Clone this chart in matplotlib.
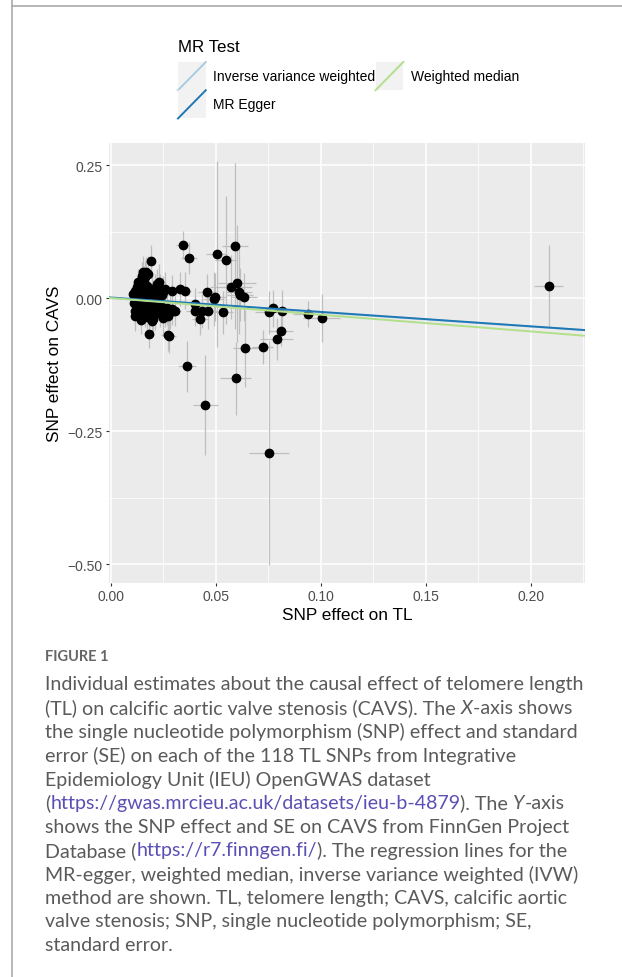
import matplotlib
matplotlib.use("Agg")
import matplotlib.pyplot as plt
from matplotlib.lines import Line2D
from matplotlib.patches import Rectangle
from matplotlib.legend_handler import HandlerBase

plt.rcParams['font.family'] = ['Liberation Sans', 'DejaVu Sans']

# SNP effects on telomere length (x) and on CAVS (y), with standard errors
tl_beta = [0.0155, 0.0168, 0.0176, 0.0147, 0.0163, 0.0132, 0.0232, 0.0219, 0.0190,
           0.0116, 0.0132, 0.0147, 0.0163, 0.0179, 0.0195, 0.0211, 0.0235, 0.0251,
           0.0116, 0.0140, 0.0155, 0.0171, 0.0187, 0.0203, 0.0227, 0.0243,
           0.0124, 0.0147, 0.0163, 0.0187, 0.0219, 0.0108, 0.0124, 0.0259,
           0.0124, 0.0147, 0.0171, 0.0195, 0.0219, 0.0243, 0.0267, 0.0290,
           0.0116, 0.0140, 0.0163, 0.0187, 0.0211, 0.0235, 0.0259, 0.0282, 0.0306,
           0.0116, 0.0143, 0.0171, 0.0203, 0.0251, 0.0274, 0.0195,
           0.0184, 0.0271, 0.0279,
           0.0128, 0.0150, 0.0135, 0.0158, 0.0130, 0.0180, 0.0200, 0.0120, 0.0175,
           0.0140, 0.0230, 0.0210, 0.0110, 0.0160,
           0.0290, 0.0330, 0.0354, 0.0343, 0.0373, 0.0457, 0.0400, 0.0400, 0.0433,
           0.0465, 0.0425, 0.0497, 0.0492, 0.0533, 0.0505, 0.0548, 0.0592, 0.0600,
           0.0571, 0.0611, 0.0616, 0.0636, 0.0362, 0.0450, 0.0595, 0.0641, 0.0724,
           0.0755, 0.0790, 0.0810, 0.0774, 0.0755, 0.0814, 0.0938, 0.1005, 0.2087]
tl_se = [0.002, 0.002, 0.002, 0.002, 0.002, 0.002, 0.003, 0.003, 0.002,
         0.002, 0.002, 0.002, 0.002, 0.002, 0.002, 0.002, 0.003, 0.003,
         0.002, 0.002, 0.002, 0.002, 0.002, 0.002, 0.003, 0.003,
         0.002, 0.002, 0.002, 0.002, 0.003, 0.002, 0.002, 0.003,
         0.002, 0.002, 0.002, 0.002, 0.003, 0.003, 0.003, 0.003,
         0.002, 0.002, 0.002, 0.002, 0.002, 0.003, 0.003, 0.003, 0.003,
         0.002, 0.002, 0.002, 0.002, 0.003, 0.003, 0.002,
         0.002, 0.003, 0.003,
         0.002, 0.002, 0.002, 0.002, 0.002, 0.002, 0.002, 0.002, 0.002,
         0.002, 0.003, 0.002, 0.002, 0.002,
         0.003, 0.003, 0.003, 0.003, 0.004, 0.004, 0.004, 0.004, 0.004,
         0.004, 0.004, 0.005, 0.005, 0.005, 0.005, 0.005, 0.006, 0.009,
         0.010, 0.006, 0.006, 0.006, 0.0043, 0.006, 0.0072, 0.006, 0.005,
         0.0095, 0.008, 0.006, 0.006, 0.007, 0.006, 0.007, 0.0089, 0.0069]
cavs_beta = [0.0482, 0.0495, 0.0451, 0.0420, 0.0388, 0.0307, 0.0307, 0.0263, 0.0695,
             0.0138, 0.0169, 0.0138, 0.0169, 0.0106, 0.0138, 0.0106, 0.0138, 0.0106,
             0.0044, 0.0056, 0.0044, 0.0075, 0.0044, 0.0056, 0.0044, 0.0056,
             -0.0031, -0.0031, -0.0007, -0.0019, -0.0031, 0.0075, 0.0201, 0.0169,
             -0.0113, -0.0144, -0.0113, -0.0132, -0.0157, -0.0175, -0.0194, -0.0207,
             -0.0238, -0.0269, -0.0257, -0.0282, -0.0301, -0.0269, -0.0238, -0.0257, -0.0238,
             -0.0345, -0.0407, -0.0363, -0.0395, -0.0382, -0.0345, -0.0426,
             -0.0677, -0.0696, -0.0721,
             0.0090, 0.0000, -0.0060, -0.0190, -0.0180, -0.0050, -0.0220, 0.0000, 0.0220,
             0.0250, -0.0080, 0.0180, -0.0100, 0.0300,
             0.0140, 0.0170, 0.0140, 0.0996, 0.0746, 0.0110, -0.0110, -0.0240, -0.0240,
             -0.0240, -0.0390, 0.0025, -0.0020, -0.0270, 0.0827, 0.0714, 0.0970, 0.0276,
             0.0200, 0.0118, 0.0060, 0.0025, -0.1280, -0.2017, -0.1510, -0.0946, -0.0927,
             -0.2910, -0.0770, -0.0626, -0.0190, -0.0270, -0.0240, -0.0300, -0.0376, 0.0220]
cavs_se = [0.030, 0.028, 0.034, 0.026, 0.030, 0.024, 0.034, 0.028, 0.030,
           0.022, 0.024, 0.028, 0.026, 0.022, 0.030, 0.026, 0.032, 0.030,
           0.020, 0.024, 0.022, 0.026, 0.024, 0.028, 0.030, 0.028,
           0.022, 0.020, 0.024, 0.022, 0.028, 0.020, 0.024, 0.032,
           0.024, 0.026, 0.024, 0.028, 0.028, 0.030, 0.032, 0.030,
           0.026, 0.024, 0.028, 0.026, 0.030, 0.028, 0.030, 0.032, 0.028,
           0.028, 0.026, 0.030, 0.032, 0.034, 0.030, 0.028,
           0.026, 0.030, 0.032,
           0.020, 0.022, 0.022, 0.024, 0.024, 0.024, 0.026, 0.020, 0.028,
           0.026, 0.030, 0.028, 0.022, 0.030,
           0.030, 0.032, 0.034, 0.027, 0.030, 0.035, 0.030, 0.028, 0.032,
           0.034, 0.030, 0.045, 0.050, 0.040, 0.175, 0.120, 0.156, 0.110,
           0.060, 0.080, 0.050, 0.045, 0.048, 0.094, 0.069, 0.073, 0.032,
           0.210, 0.039, 0.028, 0.035, 0.040, 0.040, 0.025, 0.046, 0.077]

# MR estimates (intercept, slope)
methods = ["Inverse variance weighted", "MR Egger", "Weighted median"]
intercepts = [0.0, 0.001, 0.0]
slopes = [-0.268, -0.271, -0.314]
colors = ["#A6CEE3", "#1F78B4", "#B2DF8A"]

W, H = 622, 978
fig = plt.figure(figsize=(W / 100, H / 100), dpi=100)
ax = fig.add_axes([109 / W, 1 - 584 / H, 476 / W, 440 / H])
ax.set_facecolor("#EBEBEB")
for s in ax.spines.values():
    s.set_visible(False)

ax.errorbar(tl_beta, cavs_beta, xerr=tl_se, yerr=cavs_se, fmt="none",
            ecolor="#BEBEBE", elinewidth=0.9, capsize=0, zorder=2)
ax.plot(tl_beta, cavs_beta, "o", color="black", markersize=6, zorder=3)

xlim = (-0.0008, 0.2259)
ylim = (-0.5357, 0.2914)
lines = []
for name, a, b, c in zip(methods, intercepts, slopes, colors):
    ln, = ax.plot(xlim, [a + b * xlim[0], a + b * xlim[1]], color=c, lw=1.4,
                  label=name, zorder=4)
    lines.append(ln)
ax.set_xlim(xlim)
ax.set_ylim(ylim)

ax.set_xticks([0.0, 0.05, 0.10, 0.15, 0.20])
ax.set_xticklabels(["0.00", "0.05", "0.10", "0.15", "0.20"])
ax.set_yticks([-0.5, -0.25, 0.0, 0.25])
ax.set_yticklabels(["\u22120.50", "\u22120.25", "0.00", "0.25"])
ax.set_xticks([0.025, 0.075, 0.125, 0.175, 0.225], minor=True)
ax.set_yticks([-0.375, -0.125, 0.125], minor=True)
ax.grid(True, which="major", color="white", lw=1.1)
ax.grid(True, which="minor", color="white", lw=0.55)
ax.set_axisbelow(True)
ax.tick_params(which="major", length=2.5, width=0.8, color="#333333",
               labelcolor="#4D4D4D", labelsize=10, pad=2)
ax.tick_params(which="minor", length=0)
ax.set_xlabel("SNP effect on TL", fontsize=12.4, labelpad=3)
ax.set_ylabel("SNP effect on CAVS", fontsize=12.4, labelpad=4)


class DiagHandler(HandlerBase):
    def create_artists(self, legend, orig_handle, xdescent, ydescent, width,
                       height, fontsize, trans):
        bg = Rectangle((-xdescent, -ydescent), width, height,
                       facecolor="#F2F2F2", edgecolor="none", transform=trans)
        ln = Line2D([-xdescent, -xdescent + width], [-ydescent, -ydescent + height],
                    color=orig_handle.get_color(), lw=1.4, transform=trans)
        return [bg, ln]


# legend: title as its own text, keys below it
fig.text(178 / W, 1 - 48 / H, "MR Test", fontsize=12.2, va="center")
leg = fig.legend(handles=lines, labels=methods, loc="upper left",
                 bbox_to_anchor=(178 / W, 1 - 63 / H), ncol=2, frameon=False,
                 fontsize=10, handler_map={Line2D: DiagHandler()},
                 handlelength=2.0, handleheight=2.75, labelspacing=0.0,
                 handletextpad=0.55, columnspacing=0.0, borderpad=0,
                 borderaxespad=0)

# page frame
fig.add_artist(Line2D([12 / W, 12 / W], [0, 1], color="#AAAAAA", lw=1.2,
                      transform=fig.transFigure))
fig.add_artist(Line2D([12 / W, 1], [1 - 7 / H, 1 - 7 / H], color="#AAAAAA",
                      lw=1.2, transform=fig.transFigure))

# caption
cap_color = "#5A5A5A"
link_color = "#5A4FB5"
cap_font = ["Lato", "DejaVu Sans"]
fig.text(45 / W, 1 - 657 / H, "FIGURE 1", fontsize=10.5, color="#666666",
         family=cap_font, weight="bold", va="center")

caption = [
    [("Individual estimates about the causal effect of telomere length", "n")],
    [("(TL) on calcific aortic valve stenosis (CAVS). The ", "n"), ("X", "i"),
     ("-axis shows", "n")],
    [("the single nucleotide polymorphism (SNP) effect and standard", "n")],
    [("error (SE) on each of the 118 TL SNPs from Integrative", "n")],
    [("Epidemiology Unit (IEU) OpenGWAS dataset", "n")],
    [("(", "n"), ("https://gwas.mrcieu.ac.uk/datasets/ieu-b-4879", "l"),
     ("). The ", "n"), ("Y", "i"), ("-axis", "n")],
    [("shows the SNP effect and SE on CAVS from FinnGen Project", "n")],
    [("Database (", "n"), ("https://r7.finngen.fi/", "l"),
     ("). The regression lines for the", "n")],
    [("MR-egger, weighted median, inverse variance weighted (IVW)", "n")],
    [("method are shown. TL, telomere length; CAVS, calcific aortic", "n")],
    [("valve stenosis; SNP, single nucleotide polymorphism; SE,", "n")],
    [("standard error.", "n")],
]

renderer = fig.canvas.get_renderer()
y0 = 685
for i, segs in enumerate(caption):
    x = 45
    y = 1 - (y0 + i * 23.7) / H
    for txt, kind in segs:
        t = fig.text(x / W, y, txt, fontsize=14.1, family=cap_font, va="center",
                     color=link_color if kind == "l" else cap_color,
                     style="italic" if kind == "i" else "normal")
        bb = t.get_window_extent(renderer)
        x = bb.x1

fig.savefig("out.png", dpi=100)
